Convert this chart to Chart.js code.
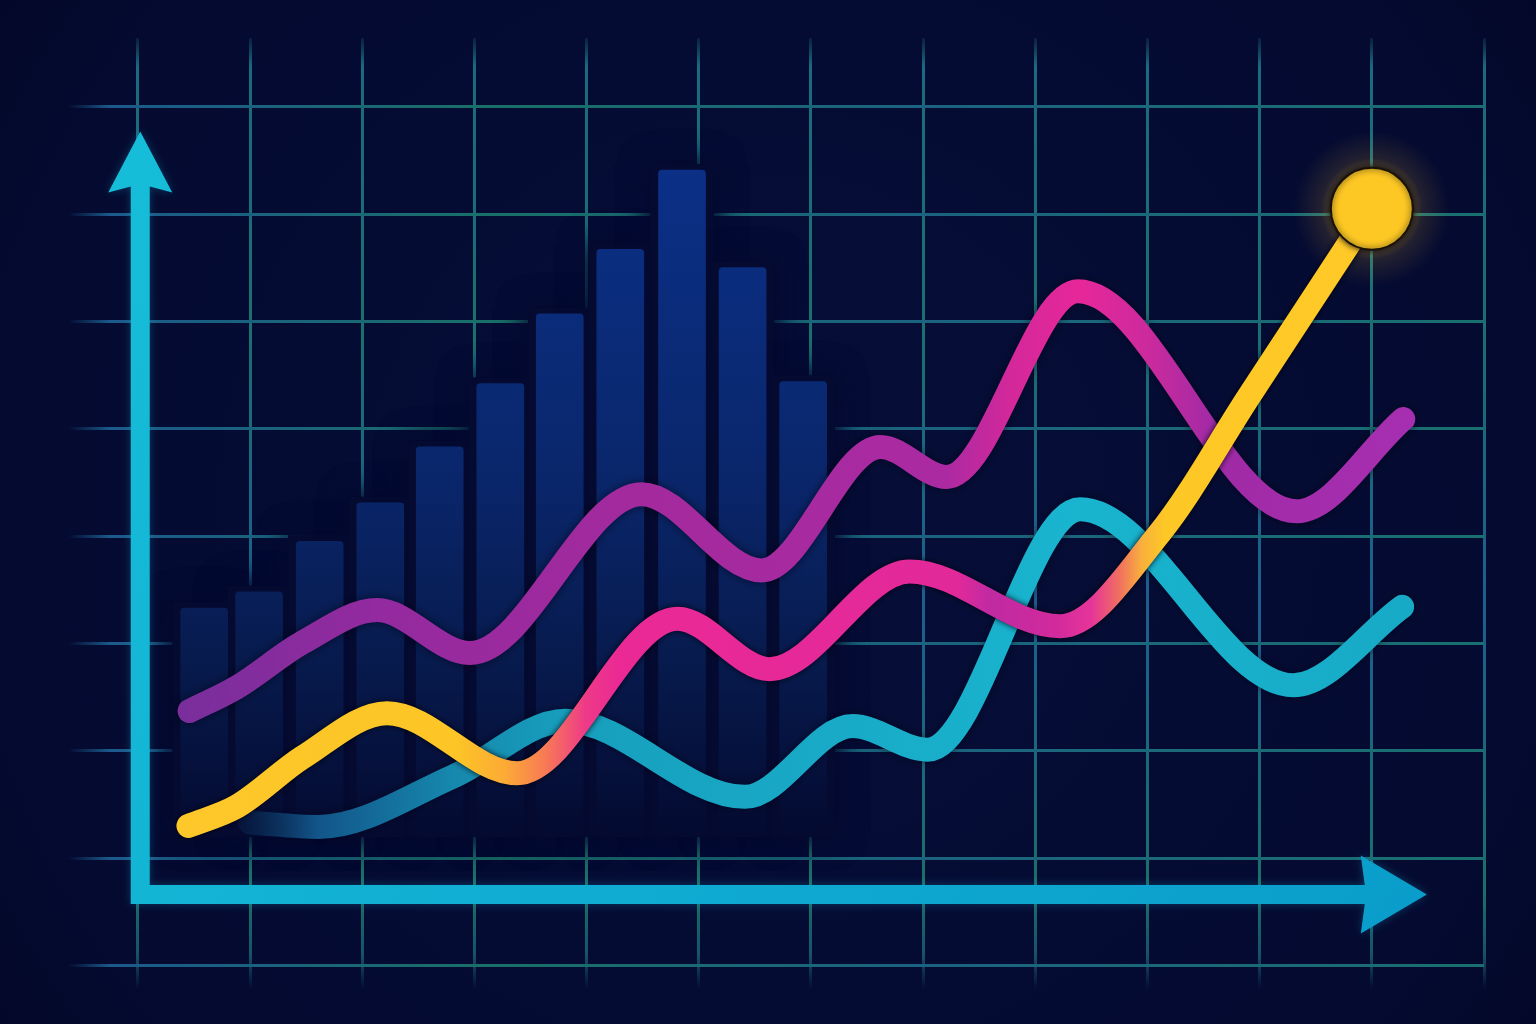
<!DOCTYPE html>
<html>
<head>
<meta charset="utf-8">
<title>Curvas e barras</title>
<script src="https://cdn.jsdelivr.net/npm/chart.js@4.4.1/dist/chart.umd.min.js"></script>
<style>
  html, body { margin: 0; padding: 0; background: #040a30; }
  #wrap { width: 1536px; height: 1024px; }
</style>
</head>
<body>
<div id="wrap"><canvas id="grafico" width="1536" height="1024"></canvas></div>
<script>
// --- dados: x em colunas da grade, y em décimos de linha da grade ---
const barX = [0.59, 1.08, 1.62, 2.16, 2.69, 3.23, 3.76, 4.30, 4.85, 5.39, 5.93];
const barY = [33.3, 34.8, 39.5, 43.1, 48.3, 54.2, 60.7, 66.7, 74.1, 65.0, 54.4];
const barFloor = 12;

const purpleX = [0.46, 0.88, 1.47, 2.13, 2.96, 4.49, 5.56, 6.62, 7.21, 8.38, 10.33, 11.28];
const purpleY = [23.7, 25.9, 30.1, 33.1, 29.1, 43.9, 36.8, 48.3, 45.5, 62.8, 42.3, 50.9];

const risingX = [0.45, 0.88, 1.47, 2.22, 3.38, 4.81, 5.63, 6.88, 8.22, 9.11, 9.91, 11.00];
const risingY = [13.0, 14.8, 19.4, 23.5, 17.9, 32.3, 27.6, 36.7, 31.6, 40.3, 53.1, 70.5];

const cyanX = [1.00, 1.61, 2.81, 3.81, 5.41, 6.37, 7.04, 8.40, 10.30, 11.27];
const cyanY = [13.3, 12.9, 17.6, 22.8, 15.7, 22.3, 20.1, 42.5, 26.1, 33.4];

// --- escalas e eixos desenhados ---
const xRange = { min: -0.624, max: 12, step: 1 };
const yRange = { min: -2.2, max: 86.4, step: 10 };
const axisOrigin = { x: 0.02, y: 6.6 };
const axisTip = { x: 11.49, y: 77.7 };

// --- estilos ---
const BG = '#040a30';
const purpleStops = [[0.44, '#7a2e9c'], [2.1, '#932a9f'], [4.5, '#a32a9d'], [7.2, '#ab2aa2'], [7.8, '#d4289a'], [8.4, '#e6279a'], [9.0, '#cc2a9d'], [9.6, '#a02aa5'], [11.3, '#a52fb0']];
const risingStops = [[0.42, '#fec82a'], [2.83, '#fdc526'], [3.27, '#fcab35'], [3.63, '#f77a55'], [3.99, '#ee3a88'], [4.3, '#ea2995'], [7.3, '#e2299a'], [7.6, '#c02aa2'], [8.2, '#d22a9c'], [8.5, '#e6359a'], [8.75, '#f0705f'], [8.95, '#f9b03c'], [9.15, '#fdc726'], [11.0, '#ffc928']];
const cyanStops = [[0.85, 'rgba(16,70,120,0.1)'], [1.6, '#12558a'], [2.8, '#1688ad'], [3.8, '#179fbd'], [8.3, '#19b4cf'], [11.3, '#17aac6']];

function xGradient(chart, stops) {
    const { ctx, chartArea, scales } = chart;
    if (!chartArea) return stops[0][1];
    const x0 = scales.x.getPixelForValue(stops[0][0]);
    const x1 = scales.x.getPixelForValue(stops[stops.length - 1][0]);
    const g = ctx.createLinearGradient(x0, 0, x1, 0);
    stops.forEach(([v, c]) => {
        const t = (scales.x.getPixelForValue(v) - x0) / (x1 - x0);
        g.addColorStop(Math.min(1, Math.max(0, t)), c);
    });
    return g;
}

function barGradient(chart) {
    const { ctx, chartArea, scales } = chart;
    if (!chartArea) return '#0a2a78';
    const top = scales.y.getPixelForValue(75);
    const bottom = scales.y.getPixelForValue(barFloor);
    const g = ctx.createLinearGradient(0, top, 0, bottom);
    g.addColorStop(0, '#0b3087');
    g.addColorStop(0.45, '#0a276d');
    g.addColorStop(0.75, '#071a4c');
    g.addColorStop(1, BG);
    return g;
}

function gridVertical(chart) {
    const { ctx, chartArea } = chart;
    if (!chartArea) return '#19657a';
    const g = ctx.createLinearGradient(0, chartArea.top, 0, chartArea.bottom);
    g.addColorStop(0, 'rgba(27,106,128,0.2)');
    g.addColorStop(0.03, 'rgba(27,106,128,1)');
    g.addColorStop(0.3, 'rgba(26,112,112,1)');
    g.addColorStop(0.6, 'rgba(28,94,142,1)');
    g.addColorStop(0.9, 'rgba(26,112,104,1)');
    g.addColorStop(0.965, 'rgba(26,100,120,0.8)');
    g.addColorStop(1, 'rgba(26,100,120,0)');
    return g;
}

function gridHorizontal(chart) {
    const { ctx, chartArea } = chart;
    if (!chartArea) return '#19657a';
    const g = ctx.createLinearGradient(chartArea.left, 0, chartArea.right, 0);
    g.addColorStop(0, 'rgba(28,90,140,0)');
    g.addColorStop(0.03, 'rgba(28,90,140,1)');
    g.addColorStop(0.3, 'rgba(26,112,104,1)');
    g.addColorStop(0.6, 'rgba(27,99,128,1)');
    g.addColorStop(1, 'rgba(26,112,112,1)');
    return g;
}

// fundo com vinheta
const fundo = {
    id: 'fundo',
    beforeDraw(chart) {
        const { ctx, width, height } = chart;
        const g = ctx.createRadialGradient(width / 2, height / 2, 100, width / 2, height / 2, width * 0.7);
        g.addColorStop(0, '#060e38');
        g.addColorStop(0.7, '#040a30');
        g.addColorStop(1, '#020722');
        ctx.save();
        ctx.fillStyle = g;
        ctx.fillRect(0, 0, width, height);
        ctx.restore();
    }
};

// halo escuro atrás das barras (esconde a grade perto delas)
const haloBarras = {
    id: 'haloBarras',
    beforeDatasetsDraw(chart) {
        const { ctx } = chart;
        const meta = chart.getDatasetMeta(0);
        ctx.save();
        ctx.fillStyle = BG;
        ctx.shadowColor = BG;
        ctx.shadowBlur = 30;
        for (let pass = 0; pass < 2; pass++) {
            meta.data.forEach(el => {
                const p = el.getProps(['x', 'y', 'base', 'width'], true);
                ctx.fillRect(p.x - p.width / 2 - 8, p.y - 6, p.width + 16, p.base - p.y + 6);
            });
        }
        ctx.restore();
    }
};

// sombras e brilho por série
const brilho = {
    id: 'brilho',
    beforeDatasetDraw(chart, args) {
        const { ctx } = chart;
        const ds = chart.data.datasets[args.index];
        ctx.save();
        if (ds.label === 'subida') {
            const pts = args.meta.data;
            const last = pts[pts.length - 1];
            const g = ctx.createRadialGradient(last.x, last.y, 36, last.x, last.y, 78);
            g.addColorStop(0, 'rgba(255,200,40,0.4)');
            g.addColorStop(0.35, 'rgba(255,190,40,0.12)');
            g.addColorStop(1, 'rgba(255,190,40,0)');
            ctx.fillStyle = g;
            ctx.beginPath();
            ctx.arc(last.x, last.y, 78, 0, Math.PI * 2);
            ctx.fill();
            ctx.shadowColor = 'rgba(0,0,12,0.9)';
            ctx.shadowBlur = 6;
        } else if (ds.label === 'roxa') {
            ctx.shadowColor = 'rgba(0,0,15,0.6)';
            ctx.shadowBlur = 10;
        } else if (ds.label === 'ciano') {
            ctx.shadowColor = 'rgba(0,0,15,0.5)';
            ctx.shadowBlur = 8;
        }
    },
    afterDatasetDraw(chart) {
        chart.ctx.restore();
    }
};

// eixos com setas
const eixos = {
    id: 'eixos',
    afterDatasetsDraw(chart) {
        const { ctx, scales: { x, y } } = chart;
        const ox = x.getPixelForValue(axisOrigin.x);
        const oy = y.getPixelForValue(axisOrigin.y);
        const tx = x.getPixelForValue(axisTip.x);
        const ty = y.getPixelForValue(axisTip.y);
        const h = 9.5;
        const g = ctx.createLinearGradient(ox, ty, tx, oy);
        g.addColorStop(0, '#16bdd8');
        g.addColorStop(1, '#0a9dcb');
        ctx.save();
        ctx.fillStyle = g;
        ctx.shadowColor = 'rgba(20,170,210,0.3)';
        ctx.shadowBlur = 8;
        ctx.beginPath();
        ctx.moveTo(ox, ty);
        ctx.lineTo(ox + 32, ty + 61);
        ctx.lineTo(ox + h, ty + 55);
        ctx.lineTo(ox + h, oy - h);
        ctx.lineTo(tx - 62, oy - h);
        ctx.lineTo(tx - 66, oy - 39);
        ctx.lineTo(tx, oy);
        ctx.lineTo(tx - 66, oy + 39);
        ctx.lineTo(tx - 62, oy + h);
        ctx.lineTo(ox - h, oy + h);
        ctx.lineTo(ox - h, ty + 55);
        ctx.lineTo(ox - 32, ty + 61);
        ctx.closePath();
        ctx.fill();
        ctx.restore();
    }
};

const pontos = (xs, ys) => xs.map((v, i) => ({ x: v, y: ys[i] }));

const linha = {
    type: 'line',
    borderWidth: 24,
    borderCapStyle: 'round',
    borderJoinStyle: 'round',
    cubicInterpolationMode: 'monotone',
    pointRadius: 0,
    fill: false,
    clip: false
};

new Chart(document.getElementById('grafico'), {
    type: 'line',
    data: {
        datasets: [
            {
                type: 'bar',
                label: 'barras',
                data: pontos(barX, barY),
                base: barFloor,
                barThickness: 47,
                borderRadius: { topLeft: 4, topRight: 4 },
                borderSkipped: 'bottom',
                backgroundColor: ctx => barGradient(ctx.chart),
                order: 4
            },
            {
                ...linha,
                label: 'ciano',
                data: pontos(cyanX, cyanY),
                borderColor: ctx => xGradient(ctx.chart, cyanStops),
                order: 3
            },
            {
                ...linha,
                label: 'roxa',
                data: pontos(purpleX, purpleY),
                borderColor: ctx => xGradient(ctx.chart, purpleStops),
                order: 2
            },
            {
                ...linha,
                label: 'subida',
                data: pontos(risingX, risingY),
                borderColor: ctx => xGradient(ctx.chart, risingStops),
                pointRadius: ctx => ctx.dataIndex === risingX.length - 1 ? 41 : 0,
                pointBackgroundColor: '#fdc824',
                pointBorderColor: '#1a1206',
                pointBorderWidth: 2,
                order: 1
            }
        ]
    },
    options: {
        responsive: false,
        animation: false,
        events: [],
        layout: { autoPadding: false, padding: { left: 68, right: 52, top: 38, bottom: 35 } },
        plugins: { legend: { display: false }, tooltip: { enabled: false } },
        scales: {
            x: {
                type: 'linear',
                offset: false,
                min: xRange.min,
                max: xRange.max,
                ticks: { display: false, stepSize: xRange.step, includeBounds: false },
                grid: { offset: false, color: ctx => gridVertical(ctx.chart), lineWidth: 3, drawTicks: false },
                border: { display: false }
            },
            y: {
                type: 'linear',
                min: yRange.min,
                max: yRange.max,
                ticks: { display: false, stepSize: yRange.step, includeBounds: false },
                grid: { color: ctx => gridHorizontal(ctx.chart), lineWidth: 3, drawTicks: false },
                border: { display: false }
            }
        }
    },
    plugins: [fundo, haloBarras, brilho, eixos]
});
</script>
</body>
</html>
